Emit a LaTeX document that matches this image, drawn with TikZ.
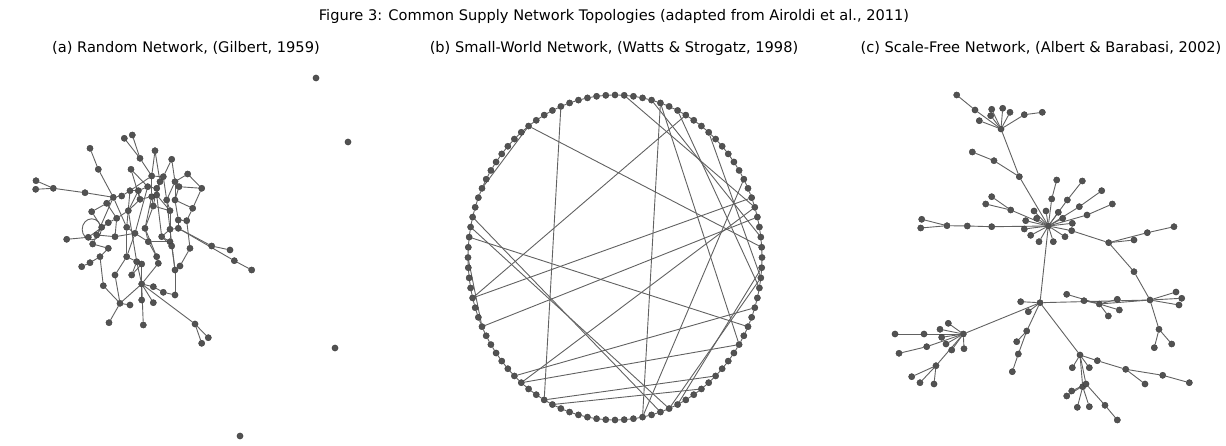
\documentclass[tikz,border=0pt]{standalone}
\usepackage{fontspec}
\setmainfont{DejaVu Sans}
\usetikzlibrary{backgrounds}
\tikzset{
  dot/.style={circle, fill=black!68, draw=black!78, line width=0.3pt, inner sep=0pt, minimum size=6.3pt},
  edge/.style={draw=black!62, line width=0.9pt},
  lbl/.style={font=\fontsize{14.6}{17}\selectfont, inner sep=0pt, anchor=base}
}
\begin{document}
\begin{tikzpicture}[x=1pt,y=-1pt]
\useasboundingbox (0,0) rectangle (1226,446);
% titles
\node[lbl] (title) at (614,20.5) {Figure 3: Common Supply Network Topologies (adapted from Airoldi et al., 2011)};
\node[lbl] (ta) at (186,52.5) {(a) Random Network, (Gilbert, 1959)};
\node[lbl] (tb) at (614,52.5) {(b) Small-World Network, (Watts \& Strogatz, 1998)};
\node[lbl] (tc) at (1041,52.5) {(c) Scale-Free Network, (Albert \& Barabasi, 2002)};

% ---------- panel (a) ----------
\foreach \n/\x/\y in {1/124.3/138.3,2/132.3/135,3/90/148.3,4/155/150.7,5/171.7/159.3,6/140/158.3,7/98.3/169.3,8/131/169.3,9/187.7/174,10/151.7/176,
11/163.3/176.7,12/160/181.7,13/175/181.7,14/36/180.7,15/35.7/189.3,16/53.3/188.3,17/85/192.7,18/147.7/186.7,19/156.7/188.3,20/179/186.7,
21/201.7/188.3,22/130/190.7,23/138.3/190.7,24/113.3/197.3,25/121.7/196,26/140/199.3,27/151.7/196.7,28/156.7/195,29/166.7/200,30/175/200,
31/106.7/203.3,32/153.3/206,33/128.3/210.7,34/91.7/211.7,35/170/210.7,36/192.7/208.3,37/116.7/218.3,38/178.3/220,39/186.7/220.7,40/101.7/227.3,
41/108.3/222.7,42/126.7/227.3,43/145/228.3,44/170/229.3,45/178.3/228.3,46/66.7/239.3,47/88.3/237.3,48/96.7/235,49/115/236.7,50/135/233.3,
51/161.7/236.7,52/92.7/244,53/108.3/248.3,54/148.3/241.7,55/170/241.7,56/171.7/246,57/211.7/246,58/230/250,59/190/248.3,60/100/256.7,
61/126.7/256.7,62/136.7/261.7,63/156.7/256.7,64/90/262.7,65/81.7/266.7,66/141.7/264,67/158.3/263.3,68/180/266,69/234.3/260.7,70/251.7/270,
71/115/275,72/131.7/275,73/175/270,74/141.7/284,75/103.3/285.7,76/153.3/286.7,77/163.3/292.3,78/175/295,79/120/303.3,80/130/305,
81/141.7/300,82/153.3/302.7,83/109/322.7,84/143.3/325,85/195/324,86/208.3/337.7,87/201.7/343.3,
88/316/78,89/348/142,90/335/348,91/240/436}
  \node[dot] (a\n) at (\x,\y) {};
\begin{pgfonlayer}{background}
\foreach \p/\q in {1/6,2/6,6/10,10/27,3/7,7/24,24/42,4/12,5/11,11/19,5/13,8/26,9/13,9/21,21/36,36/39,39/38,13/20,
14/16,15/16,16/17,17/24,12/19,18/19,18/23,19/28,22/23,22/25,25/24,20/30,13/29,11/12,10/11,
27/32,28/35,29/35,30/38,32/43,26/33,33/37,31/37,31/24,34/31,34/40,37/41,41/40,40/48,42/50,43/54,44/51,44/45,35/44,
45/57,57/58,45/69,69/70,38/45,46/47,48/49,49/50,52/53,48/52,53/60,60/64,64/65,60/75,75/79,79/83,79/80,79/74,
74/81,74/84,74/76,74/82,74/85,85/86,85/87,76/77,77/78,78/73,73/56,56/55,55/51,68/59,59/39,
50/54,54/63,63/67,67/74,66/74,62/66,61/62,61/71,72/66,42/61,54/55,33/62,51/56,8/18,26/27,12/28,4/10,23/26,32/35,47/41,
22/42,27/43,18/50,19/32,29/44,30/36,20/21,10/22,23/33,28/51,35/55,43/63,50/61,62/72,71/79,11/29,24/48,37/49,44/73,13/30,62/74}
  \draw[edge] (a\p) -- (a\q);
\draw[edge] ([xshift=-10pt,yshift=-2pt]a40.center) ellipse [x radius=9.5, y radius=10.5];
\end{pgfonlayer}

% ---------- panel (b) ----------
\foreach \i in {0,...,99}
  \node[dot] (b\i) at ({615+147*cos(\i*3.6)},{257.5-162.5*sin(\i*3.6)}) {};
\begin{pgfonlayer}{background}
\foreach \i [evaluate=\i as \j using {int(mod(\i+1,100))}] in {0,...,99}
  \draw[edge] (b\i) -- (b\j);
\foreach \p/\q in {31/67,35/1,35/43,17/54,20/78,20/91,24/5,21/2,6/54,4/57,8/78,98/81,99/82,48/93,46/80,47/81,50/57,5/64,63/95,67/87,68/85,18/97,14/98,64/91}
  \draw[edge] (b\p) -- (b\q);
\end{pgfonlayer}

% ---------- panel (c) ----------
\foreach \n/\x/\y in {1/956.7/95,2/975/110,3/991.7/109.3,4/1002.7/108.3,5/1010/112.3,6/990.7/115.7,7/979.3/120.7,8/1024.3/114.7,9/1042.3/112.3,10/1001/129,
11/1019.3/176.7,12/994/160.7,13/972.3/152,14/1048.3/226,15/1056.7/180,16/1051.7/199,17/1082.3/181,18/1067.3/200,19/1101.7/190.7,20/1079.3/206.7,
21/1112.3/204,22/1087/215,23/991.7/196.7,24/985.7/204,25/1010.7/210,26/1034/211,27/1046/211,28/1058.3/212.3,29/1062.7/218.3,30/1025.7/220.7,
31/1036.7/218.3,32/1072.3/223.3,33/1024.3/229,34/1030.7/235.3,35/1039/241.7,36/1053.3/241.7,37/1065/236.7,38/1071.7/230.7,39/991.7/226.7,40/967.3/226,
41/947/225.7,42/921.7/219.3,43/920.7/228,44/1108.7/242.7,45/1134/240,46/1147.3/232.7,47/1174/226.7,48/1134/271.7,49/1150/300,50/1040/302.7,
51/1020.7/301.7,52/1028.3/311.7,53/1084/300.7,54/1099.3/304,55/1117.3/299.3,56/1066.7/294.3,57/1119.3/310,58/1108.3/316,59/1176/292,60/1181.7/298.3,
61/1179/305,62/1159/329.3,63/1154.3/347.7,64/1171.7/344,65/963.3/334,66/948.3/323.3,67/940/329.3,68/941.7/337.3,69/946/344,70/951.7/350,
71/964/348.7,72/924/334,73/895/334,74/926.7/346.7,75/899/353.3,76/936/365.7,77/911.7/376.7,78/920/382.7,79/934/384,80/1026.7/331,
81/1016.7/341.7,82/1018.3/354,83/1012.3/371.7,84/1080/355,85/1072.3/367.7,86/1089.3/367.7,87/1097.3/360.7,88/1125.7/369.3,89/1162.7/375.3,90/1189.3/382.7,
91/1145/384,92/1082.7/386.7,93/1086/384,94/1066.7/396,95/1071.7/391,96/1077.3/407.3,97/1089.3/406.7,98/1105/405.3,99/1117.3/420}
  \node[dot] (c\n) at (\x,\y) {};
\begin{pgfonlayer}{background}
\foreach \p/\q in {1/2,2/10,3/10,4/10,5/10,6/10,7/10,8/10,8/9,10/11,11/12,12/13,11/14,
14/16,16/15,14/18,18/17,14/20,20/19,14/22,22/21,14/25,25/23,25/24,
14/26,14/27,14/28,14/29,14/30,14/31,14/32,14/33,14/34,14/35,14/36,14/37,14/38,
14/39,39/40,40/41,41/42,41/43,38/44,44/45,44/46,46/47,44/48,48/49,
14/50,50/51,50/52,50/49,54/56,54/53,54/55,54/57,54/58,49/54,
49/59,49/60,49/61,49/62,62/63,62/64,
50/65,65/66,65/67,65/68,65/69,65/70,65/71,65/72,72/73,65/74,74/75,65/76,76/77,76/78,76/79,
50/80,80/81,80/82,82/83,50/84,84/85,84/86,84/87,87/88,88/89,89/90,88/91,84/92,84/93,93/94,93/95,92/96,92/97,93/98,98/99}
  \draw[edge] (c\p) -- (c\q);
\end{pgfonlayer}
\end{tikzpicture}
\end{document}
